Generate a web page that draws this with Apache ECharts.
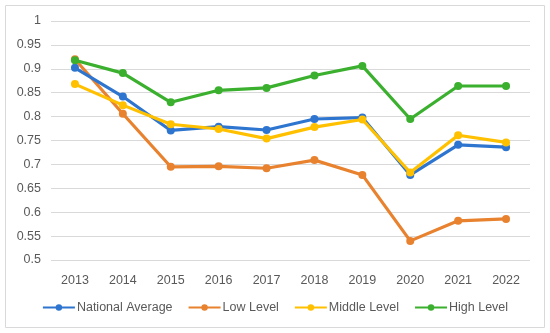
<!DOCTYPE html>
<html><head><meta charset="utf-8">
<script src="https://cdn.jsdelivr.net/npm/echarts@6/dist/echarts.min.js"></script>
<style>html,body{margin:0;padding:0;background:#fff}#c{width:550px;height:333px}</style>
</head><body><div id="c"></div>
<script>
var years = ['2013','2014','2015','2016','2017','2018','2019','2020','2021','2022'];
var nationalAverage = [0.902,0.842,0.771,0.779,0.772,0.795,0.798,0.678,0.741,0.736];
var lowLevel = [0.920,0.806,0.695,0.696,0.692,0.709,0.678,0.540,0.582,0.586];
var middleLevel = [0.868,0.824,0.784,0.774,0.754,0.778,0.794,0.683,0.761,0.746];
var highLevel = [0.918,0.891,0.830,0.855,0.860,0.886,0.906,0.795,0.864,0.864];
var seriesNames = ['National Average','Low Level','Middle Level','High Level'];
var colors = ['#2E75D0','#E8822F','#FFC000','#3BB02F'];

var chart = echarts.init(document.getElementById('c'));
function mk(name, data, color, z){
  return {name:name,type:'line',data:data,symbol:'circle',symbolSize:8,z:z,
    lineStyle:{width:3.2,color:color},itemStyle:{color:color}};
}
chart.setOption({
  animation:false,
  graphic:[{type:'rect',shape:{x:5.5,y:5.5,width:539,height:322},style:{fill:'none',stroke:'#d9d9d9',lineWidth:1}}],
  grid:{left:51,right:20,top:21,bottom:73},
  legend:{bottom:14,left:'center',itemWidth:32,itemHeight:8,itemGap:15,
    textStyle:{color:'#595959',fontSize:12.5,padding:[0,0,0,-3],fontFamily:'Liberation Sans, Arial, sans-serif'},
    data:seriesNames},
  xAxis:{type:'category',data:years,boundaryGap:true,
    axisLine:{show:false},axisTick:{show:false},
    axisLabel:{color:'#595959',fontSize:12.5,margin:14,fontFamily:'Liberation Sans, Arial, sans-serif'}},
  yAxis:{type:'value',min:0.5,max:1,interval:0.05,
    axisLine:{show:false},axisTick:{show:false},
    splitLine:{lineStyle:{color:'#d9d9d9',width:1}},
    axisLabel:{color:'#595959',fontSize:12.5,margin:10,fontFamily:'Liberation Sans, Arial, sans-serif',
      formatter:function(v){return String(Math.round(v*100)/100);}}},
  series:[
    mk(seriesNames[0],nationalAverage,colors[0],4),
    mk(seriesNames[1],lowLevel,colors[1],3),
    mk(seriesNames[2],middleLevel,colors[2],5),
    mk(seriesNames[3],highLevel,colors[3],6)
  ]
});
</script></body></html>
